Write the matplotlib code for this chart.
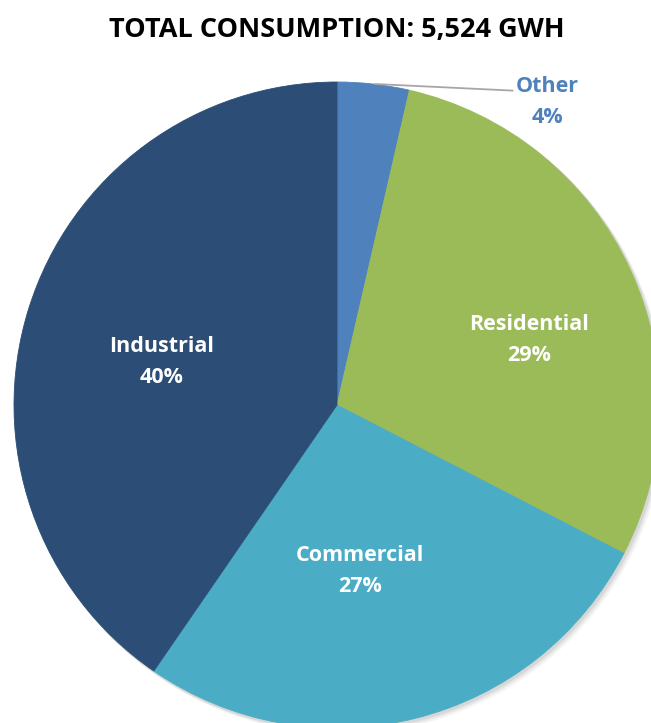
import matplotlib
matplotlib.use("Agg")
import matplotlib.pyplot as plt
from matplotlib.patches import Circle

# share of total consumption (%), clockwise from 12 o'clock
categories = ["Other", "Residential", "Commercial", "Industrial"]
shares = [3.6, 29.0, 27.0, 40.4]
colors = ["#4F81BD", "#9BBB59", "#4BACC6", "#2C4D75"]
title = "TOTAL CONSUMPTION: 5,524 GWH"

W, H, DPI = 651, 723, 100
cx, cy, R = 337, 405, 323  # pie centre / radius in pixels

plt.rcParams['font.family'] = ['Open Sans', 'DejaVu Sans']

fig = plt.figure(figsize=(W / DPI, H / DPI), dpi=DPI)
ax = fig.add_axes([0, 0, 1, 1])

# soft shadow behind the whole pie
for k, a in [(5, 0.04), (3.5, 0.05), (2, 0.07)]:
    ax.add_patch(Circle((k / R, -k / R), 1.0 + 1.0 / R, color='k', alpha=a, lw=0, zorder=0))

wedges, _ = ax.pie(shares, colors=colors, startangle=90, counterclock=False,
                   radius=1, center=(0, 0),
                   wedgeprops=dict(linewidth=0.6, zorder=1))
for w, c in zip(wedges, colors):
    w.set_edgecolor(c)

ax.set_xlim(-cx / R, (W - cx) / R)
ax.set_ylim(-(H - cy) / R, cy / R)
ax.set_aspect('equal', adjustable='box')
ax.axis('off')

def px(x, y):
    return (x - cx) / R, (cy - y) / R

# label positions (pixel coords of text centre)
label_pos = {"Residential": (529, 340), "Commercial": (360, 571), "Industrial": (162, 362)}
for name, val in zip(categories, shares):
    txt = "{}\n{:.0f}%".format(name, val)
    if name == "Other":
        ax.annotate(txt, xy=px(375, 84), xytext=px(547, 102),
                    ha='center', va='center', fontsize=15.5, fontweight='bold',
                    color=colors[0], linespacing=1.6,
                    arrowprops=dict(arrowstyle='-', color='#A6A6A6', lw=1.3,
                                    shrinkA=0, shrinkB=0,
                                    relpos=(-0.03, 0.72)))
    else:
        ax.text(*px(*label_pos[name]), txt, ha='center', va='center',
                fontsize=15.5, fontweight='bold', color='white', linespacing=1.6)

fig.text(cx / W, 1 - 30 / H, title, ha='center', va='center',
         fontsize=19.5, fontweight='bold', color='black')

fig.savefig("out.png", dpi=DPI)
